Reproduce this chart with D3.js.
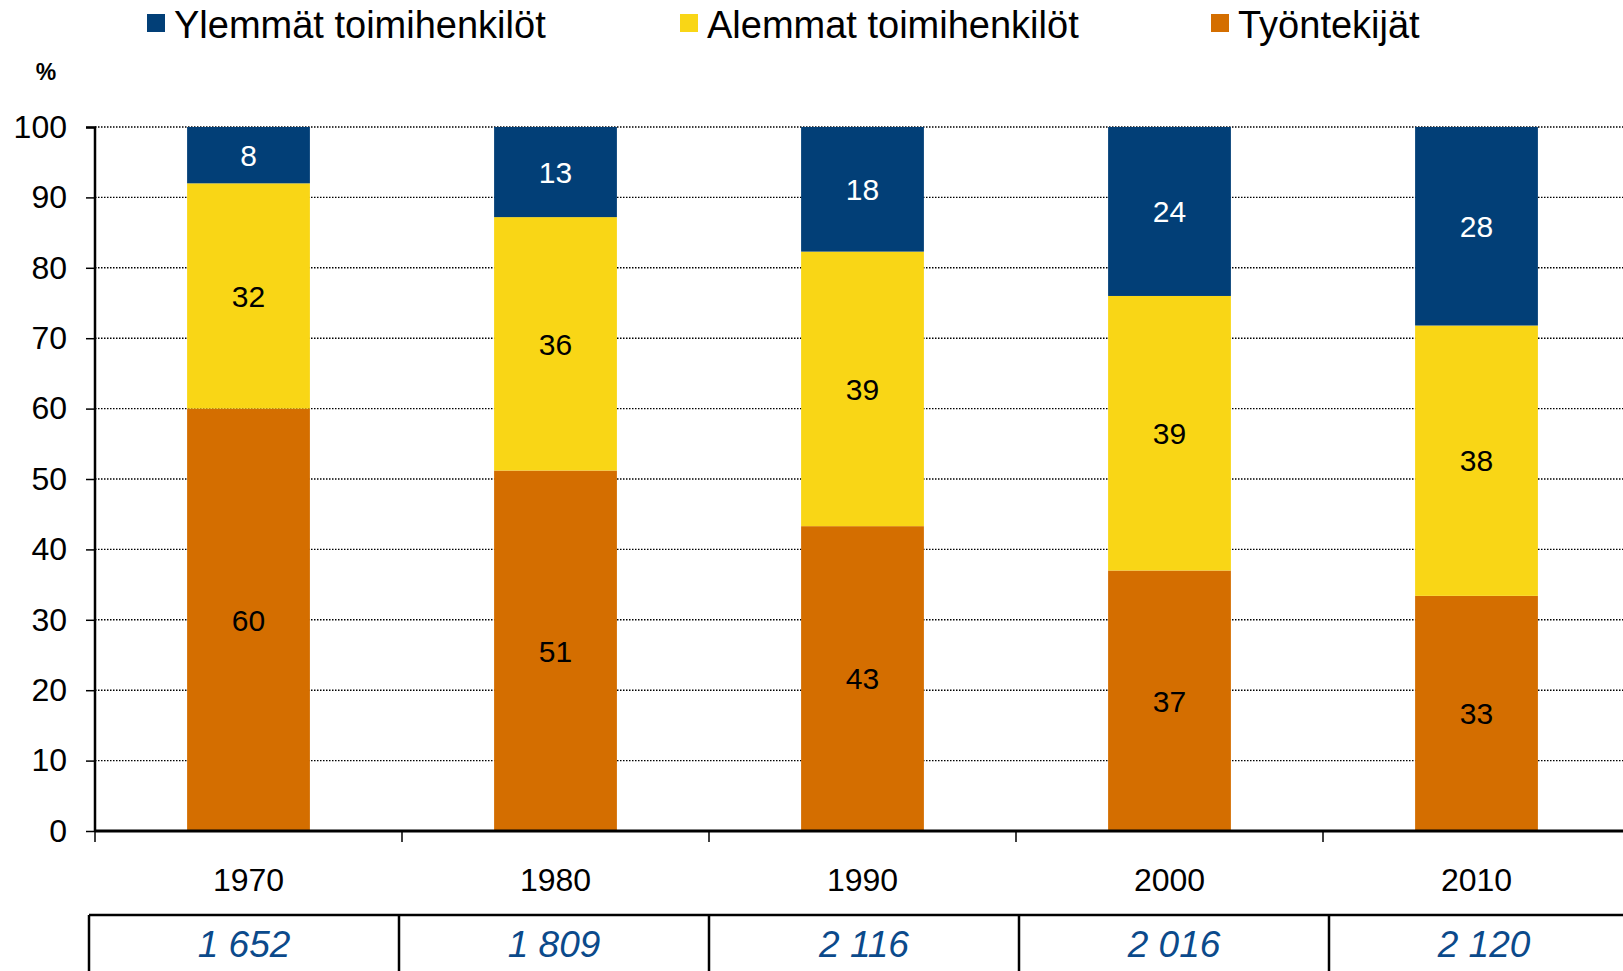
<!DOCTYPE html>
<html>
<head>
<meta charset="utf-8">
<script src="https://cdn.jsdelivr.net/npm/d3@7"></script>
<style>
  body { margin: 0; background: #fff; overflow: hidden; }
  text { font-family: "Liberation Sans", Arial, sans-serif; }
</style>
</head>
<body>
<div id="chart"></div>
<script>
// data
var years = ["1970", "1980", "1990", "2000", "2010"];
var tyontekijat = [60, 51.2, 43.3, 37.0, 33.4];
var alemmat = [32, 36, 39, 39, 38.4];
var ylemmat = [8, 12.8, 17.7, 24, 28.2];
var totals = ["1 652", "1 809", "2 116", "2 016", "2 120"];
var seriesNames = ["Ylemmät toimihenkilöt", "Alemmat toimihenkilöt", "Työntekijät"];
var yTicks = [0, 10, 20, 30, 40, 50, 60, 70, 80, 90, 100];

const W = 1623, H = 971;
const colors = { ylemmat: "#023f77", alemmat: "#f9d616", tyontekijat: "#d46e00" };

const svg = d3.select("#chart").append("svg")
  .attr("width", W)
  .attr("height", H);

// scales
const x = d3.scaleBand().domain(years).range([95, 1630]).padding(0);
const y = d3.scaleLinear().domain([0, 100]).range([831, 127]);
const barW = x.bandwidth() * 0.4;

// gridlines
svg.append("g")
  .selectAll("line")
  .data(yTicks.filter(d => d > 0))
  .enter()
  .append("line")
  .attr("x1", 95)
  .attr("x2", W)
  .attr("y1", d => y(d))
  .attr("y2", d => y(d))
  .attr("stroke", "#000")
  .attr("stroke-width", 1.4)
  .attr("stroke-dasharray", "1.5,1.5");

// stack
const rows = years.map((yr, i) => ({
  year: yr,
  tyontekijat: tyontekijat[i],
  alemmat: alemmat[i],
  ylemmat: ylemmat[i]
}));
const keys = ["tyontekijat", "alemmat", "ylemmat"];
const stacked = d3.stack().keys(keys)(rows);

const layers = svg.append("g")
  .selectAll("g")
  .data(stacked)
  .enter()
  .append("g")
  .attr("fill", d => colors[d.key]);

layers.selectAll("rect")
  .data(d => d)
  .enter()
  .append("rect")
  .attr("x", d => x(d.data.year) + (x.bandwidth() - barW) / 2)
  .attr("width", barW)
  .attr("y", d => y(d[1]))
  .attr("height", d => y(d[0]) - y(d[1]));

// value labels
layers.selectAll("text")
  .data(d => d.map(p => ({ p: p, key: d.key })))
  .enter()
  .append("text")
  .attr("x", d => x(d.p.data.year) + x.bandwidth() / 2)
  .attr("y", d => y((d.p[0] + d.p[1]) / 2))
  .attr("dy", "0.36em")
  .attr("text-anchor", "middle")
  .attr("font-size", "30px")
  .attr("fill", d => d.key === "ylemmat" ? "#fff" : "#000")
  .text(d => Math.round(d.p[1] - d.p[0]));

// y axis
const yAxis = d3.axisLeft(y).tickValues(yTicks).tickSize(9).tickPadding(19);
const yg = svg.append("g")
  .attr("transform", "translate(95,0)")
  .call(yAxis);
yg.select(".domain").attr("stroke-width", 2.5).attr("d", "M-9,127.5H0V831");
yg.selectAll(".tick line").attr("stroke-width", 1.5);
yg.selectAll("text").attr("font-size", "32px").attr("font-family", "Liberation Sans, Arial, sans-serif").attr("fill", "#000");

// x axis line with boundary ticks
svg.append("line")
  .attr("x1", 95).attr("x2", W)
  .attr("y1", 831).attr("y2", 831)
  .attr("stroke", "#000").attr("stroke-width", 3);
svg.append("g")
  .selectAll("line")
  .data(years)
  .enter()
  .append("line")
  .attr("x1", d => x(d)).attr("x2", d => x(d))
  .attr("y1", 831).attr("y2", 842)
  .attr("stroke", "#000").attr("stroke-width", 1.5);

// category labels
svg.append("g")
  .selectAll("text")
  .data(years)
  .enter()
  .append("text")
  .attr("x", d => x(d) + x.bandwidth() / 2)
  .attr("y", 891)
  .attr("text-anchor", "middle")
  .attr("font-size", "32px")
  .text(d => d);

// "%" unit
svg.append("text")
  .attr("x", 46).attr("y", 80)
  .attr("text-anchor", "middle")
  .attr("font-size", "23px")
  .attr("font-weight", "bold")
  .text("%");

// table with totals
const tx = d3.scaleBand().domain(years).range([89, 89 + 310 * 5]);
svg.append("line")
  .attr("x1", 89).attr("x2", W)
  .attr("y1", 915).attr("y2", 915)
  .attr("stroke", "#000").attr("stroke-width", 2.5);
svg.append("g")
  .selectAll("line")
  .data(years)
  .enter()
  .append("line")
  .attr("x1", d => tx(d)).attr("x2", d => tx(d))
  .attr("y1", 915).attr("y2", H)
  .attr("stroke", "#000").attr("stroke-width", 2.5);
svg.append("g")
  .selectAll("text")
  .data(years)
  .enter()
  .append("text")
  .attr("x", (d, i) => tx(d) + tx.bandwidth() / 2)
  .attr("y", 957)
  .attr("text-anchor", "middle")
  .attr("font-size", "37px")
  .attr("font-style", "italic")
  .attr("fill", "#0b4a8b")
  .text((d, i) => totals[i]);

// legend
const legendX = [147, 680, 1211];
const legendColors = [colors.ylemmat, colors.alemmat, colors.tyontekijat];
const lg = svg.append("g")
  .selectAll("g")
  .data(seriesNames)
  .enter()
  .append("g")
  .attr("transform", (d, i) => `translate(${legendX[i]},0)`);
lg.append("rect")
  .attr("x", 0).attr("y", 14)
  .attr("width", 18).attr("height", 18)
  .attr("fill", (d, i) => legendColors[i]);
lg.append("text")
  .attr("x", 27).attr("y", 38)
  .attr("font-size", "38px")
  .text(d => d);
</script>
</body>
</html>
